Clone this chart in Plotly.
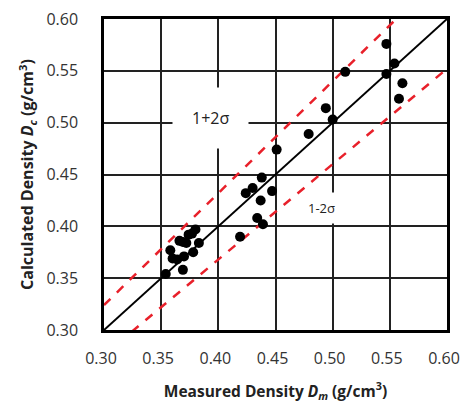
import plotly.graph_objects as go

measured = [0.354, 0.358, 0.360, 0.364, 0.366, 0.369, 0.370, 0.369, 0.372, 0.374,
            0.377, 0.380, 0.383, 0.378,
            0.419, 0.434, 0.439, 0.437, 0.424, 0.430, 0.447, 0.438, 0.451,
            0.479, 0.494, 0.500, 0.511, 0.547, 0.554, 0.547, 0.561, 0.558]
calculated = [0.354, 0.377, 0.369, 0.368, 0.386, 0.385, 0.371, 0.358, 0.384, 0.392,
              0.393, 0.397, 0.384, 0.375,
              0.390, 0.408, 0.402, 0.425, 0.432, 0.437, 0.434, 0.447, 0.474,
              0.489, 0.514, 0.503, 0.549, 0.576, 0.557, 0.547, 0.538, 0.523]

line_x = [0.30, 0.60]
factor_ideal = 1.0
factor_upper = 1.08
factor_lower = 0.92
ticks = [0.30, 0.35, 0.40, 0.45, 0.50, 0.55, 0.60]
tick_text = ["0.30", "0.35", "0.40", "0.45", "0.50", "0.55", "0.60"]

FONT = "Open Sans"
fig = go.Figure()
fig.add_trace(go.Scatter(x=line_x, y=[v * factor_upper for v in line_x], mode="lines",
                         line=dict(color="#e8202a", width=2.5, dash="dash"), hoverinfo="skip"))
fig.add_trace(go.Scatter(x=line_x, y=[v * factor_lower for v in line_x], mode="lines",
                         line=dict(color="#e8202a", width=2.5, dash="dash"), hoverinfo="skip"))
fig.add_trace(go.Scatter(x=line_x, y=[v * factor_ideal for v in line_x], mode="lines",
                         line=dict(color="black", width=2), hoverinfo="skip"))
fig.add_trace(go.Scatter(x=measured, y=calculated, mode="markers",
                         marker=dict(color="black", size=10)))

fig.add_annotation(x=0.393, y=0.5045, text="1+2σ", showarrow=False,
                   font=dict(family=FONT, size=16, color="#222"),
                   bgcolor="white", borderpad=19)
fig.add_annotation(x=0.4905, y=0.4174, text="1-2σ", showarrow=False,
                   font=dict(family=FONT, size=13, color="#222"),
                   bgcolor="white", borderpad=6)

axis_common = dict(range=[0.30, 0.60], tickvals=ticks, ticktext=tick_text,
                   showgrid=True, gridcolor="#222", gridwidth=1.5,
                   showline=True, linecolor="black", linewidth=2.5, mirror=True,
                   zeroline=False, ticks="", automargin=False,
                   ticklabeloverflow="allow",
                   tickfont=dict(family=FONT, size=16, color="#333"))

fig.update_xaxes(**axis_common, ticklabelstandoff=12, ticklabelshift=-3,
                 title=dict(text="<b>Measured Density <i>D</i><sub><i>m</i></sub> (g/cm<sup>3</sup>)</b>",
                            font=dict(family=FONT, size=15.5, color="#222"), standoff=24))
fig.update_yaxes(**axis_common, ticklabelstandoff=20,
                 title=dict(text="<b>Calculated Density <i>D</i><sub><i>c</i></sub> (g/cm<sup>3</sup>)</b>",
                            font=dict(family=FONT, size=16, color="#222"), standoff=9))

fig.update_layout(width=462, height=403, showlegend=False,
                  margin=dict(l=104, r=15, t=19, b=73),
                  plot_bgcolor="white", paper_bgcolor="white")
fig.write_html("out.html", config={"displayModeBar": False},
               post_script="document.body.style.margin='0';")
